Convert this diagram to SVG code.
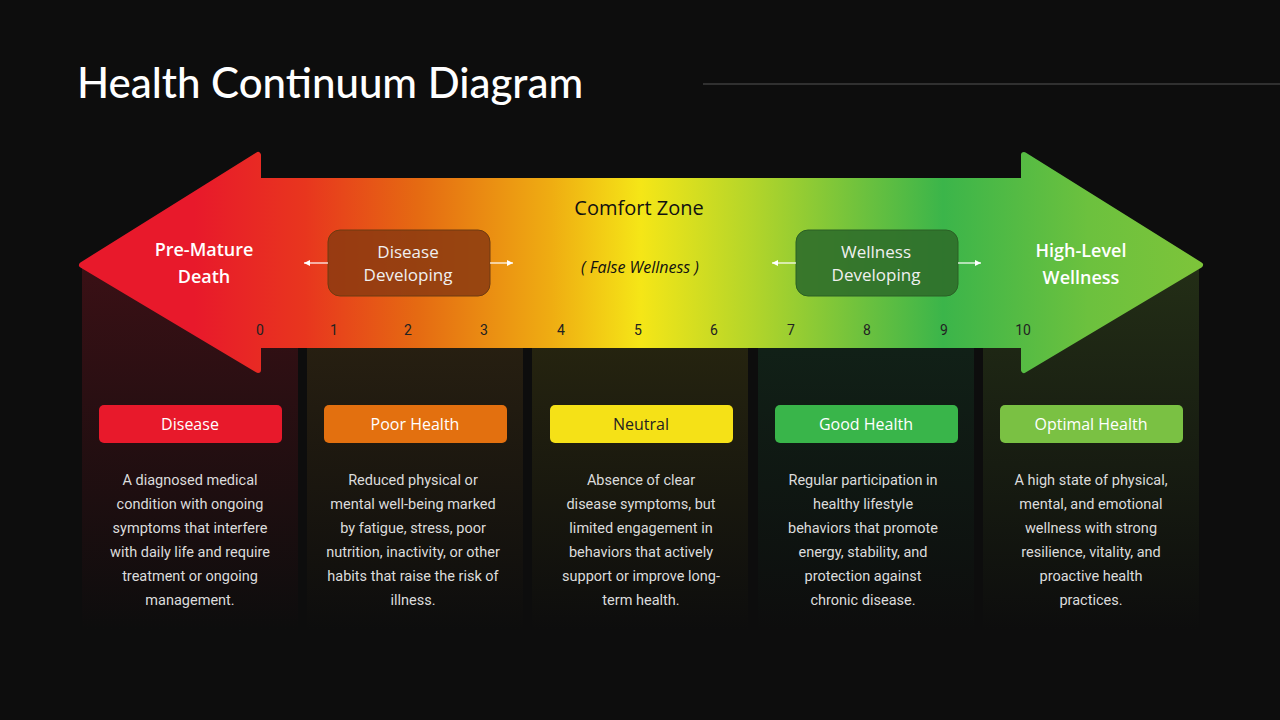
<svg xmlns="http://www.w3.org/2000/svg" width="1280" height="720" viewBox="0 0 1280 720">
<defs>
<linearGradient id="arr" x1="82" y1="0" x2="1200" y2="0" gradientUnits="userSpaceOnUse">
<stop offset="0.1" stop-color="#e8192b"/>
<stop offset="0.2" stop-color="#e8361e"/>
<stop offset="0.3" stop-color="#e56a12"/>
<stop offset="0.42" stop-color="#efad12"/>
<stop offset="0.5" stop-color="#f5e617"/>
<stop offset="0.6" stop-color="#b3d52a"/>
<stop offset="0.7" stop-color="#6cc13e"/>
<stop offset="0.77" stop-color="#3bb54a"/>
<stop offset="0.9" stop-color="#6cc13e"/>
<stop offset="1" stop-color="#7dc43a"/>
</linearGradient>
<linearGradient id="c1" x1="0" y1="0" x2="0" y2="1"><stop offset="0" stop-color="#3a1015"/><stop offset="1" stop-color="#0d0d0d"/></linearGradient>
<linearGradient id="c2" x1="0" y1="0" x2="0" y2="1"><stop offset="0" stop-color="#2e2412"/><stop offset="1" stop-color="#0d0d0d"/></linearGradient>
<linearGradient id="c3" x1="0" y1="0" x2="0" y2="1"><stop offset="0" stop-color="#2c2a10"/><stop offset="1" stop-color="#0d0d0d"/></linearGradient>
<linearGradient id="c4" x1="0" y1="0" x2="0" y2="1"><stop offset="0" stop-color="#12261a"/><stop offset="1" stop-color="#0d0d0d"/></linearGradient>
<linearGradient id="c5" x1="0" y1="0" x2="0" y2="1"><stop offset="0" stop-color="#232e16"/><stop offset="1" stop-color="#0d0d0d"/></linearGradient>
<marker id="ah" markerWidth="6" markerHeight="6" refX="5" refY="3" orient="auto"><path d="M0,0.5 L5,3 L0,5.5 Z" fill="#fff"/></marker>
</defs>
<style>
.ttl{font-family:Lato,"Open Sans",sans-serif;font-weight:500;font-size:42px;fill:#fff}
.big{font-family:"Open Sans",Lato,sans-serif;font-weight:600;font-size:18px;fill:#fff;text-anchor:middle}
.box{font-family:"Open Sans",Lato,sans-serif;font-weight:500;font-size:17px;fill:#f0f0f0;text-anchor:middle}
.num{font-family:Roboto,sans-serif;font-size:14px;fill:#222;text-anchor:middle}
.pill{font-family:"Open Sans",Lato,sans-serif;font-weight:500;font-size:16px;fill:#fff;text-anchor:middle}
.body{font-family:Roboto,sans-serif;font-size:14.5px;fill:#dcdcdc;text-anchor:middle}
.con{stroke:#fff;stroke-width:1.2;fill:none;marker-end:url(#ah)}
</style>
<rect width="1280" height="720" fill="#0d0d0d"/>
<text class="ttl" x="77" y="98">Health Continuum Diagram</text>
<line x1="703" y1="84" x2="1280" y2="84" stroke="#555" stroke-width="1"/>
<g id="columns">
<rect x="82" y="265" width="216" height="365" fill="url(#c1)"/>
<rect x="307" y="265" width="216" height="365" fill="url(#c2)"/>
<rect x="532" y="265" width="216" height="365" fill="url(#c3)"/>
<rect x="758" y="265" width="216" height="365" fill="url(#c4)"/>
<rect x="983" y="265" width="216" height="365" fill="url(#c5)"/>
</g>
<g id="arrow">
<path d="M82,265 L258,155 L258,181 L1024,181 L1024,155 L1200,265 L1024,370 L1024,345 L258,345 L258,370 Z" fill="url(#arr)" stroke="url(#arr)" stroke-width="6" stroke-linejoin="round"/>
<text class="big" x="204" y="256">Pre-Mature</text>
<text class="big" x="204" y="283">Death</text>
<text class="big" x="1081" y="257">High-Level</text>
<text class="big" x="1081" y="284">Wellness</text>
<text x="639" y="215" font-family="'Open Sans',Lato,sans-serif" font-weight="500" font-size="20" fill="#111" text-anchor="middle">Comfort Zone</text>
<text x="640" y="273" font-family="'Open Sans',Lato,sans-serif" font-style="italic" font-size="16" fill="#111" text-anchor="middle">( False Wellness )</text>
</g>
<g id="disease-developing">
<rect x="328" y="230" width="162" height="66" rx="12" fill="#8a3a10" fill-opacity="0.85" stroke="#6e3a10" stroke-width="1"/>
<text class="box" x="408" y="258">Disease</text>
<text class="box" x="408" y="281">Developing</text>
</g>
<g id="wellness-developing">
<rect x="796" y="230" width="162" height="66" rx="12" fill="#2f6e2a" fill-opacity="0.9" stroke="#2a6025" stroke-width="1"/>
<text class="box" x="876" y="258">Wellness</text>
<text class="box" x="876" y="281">Developing</text>
</g>
<g id="connectors">
<line class="con" x1="328" y1="263" x2="304" y2="263"/>
<line class="con" x1="490" y1="263" x2="513" y2="263"/>
<line class="con" x1="796" y1="263" x2="772" y2="263"/>
<line class="con" x1="958" y1="263" x2="981" y2="263"/>
</g>
<g id="scale">
<text class="num" x="260" y="335">0</text>
<text class="num" x="334" y="335">1</text>
<text class="num" x="408" y="335">2</text>
<text class="num" x="484" y="335">3</text>
<text class="num" x="561" y="335">4</text>
<text class="num" x="638" y="335">5</text>
<text class="num" x="714" y="335">6</text>
<text class="num" x="791" y="335">7</text>
<text class="num" x="867" y="335">8</text>
<text class="num" x="944" y="335">9</text>
<text class="num" x="1023" y="335">10</text>
</g>
<g id="disease">
<rect x="99" y="405" width="183" height="38" rx="5" fill="#e8192b"/>
<text class="pill" x="190" y="430">Disease</text>
<text class="body"><tspan x="190" y="485">A diagnosed medical</tspan><tspan x="190" y="509">condition with ongoing</tspan><tspan x="190" y="533">symptoms that interfere</tspan><tspan x="190" y="557">with daily life and require</tspan><tspan x="190" y="581">treatment or ongoing</tspan><tspan x="190" y="605">management.</tspan></text>
</g>
<g id="poor-health">
<rect x="324" y="405" width="183" height="38" rx="5" fill="#e3700f"/>
<text class="pill" x="415" y="430">Poor Health</text>
<text class="body"><tspan x="413" y="485">Reduced physical or</tspan><tspan x="413" y="509">mental well-being marked</tspan><tspan x="413" y="533">by fatigue, stress, poor</tspan><tspan x="413" y="557">nutrition, inactivity, or other</tspan><tspan x="413" y="581">habits that raise the risk of</tspan><tspan x="413" y="605">illness.</tspan></text>
</g>
<g id="neutral">
<rect x="550" y="405" width="183" height="38" rx="5" fill="#f5e117"/>
<text class="pill" x="641" y="430" style="fill:#222">Neutral</text>
<text class="body"><tspan x="641" y="485">Absence of clear</tspan><tspan x="641" y="509">disease symptoms, but</tspan><tspan x="641" y="533">limited engagement in</tspan><tspan x="641" y="557">behaviors that actively</tspan><tspan x="641" y="581">support or improve long-</tspan><tspan x="641" y="605">term health.</tspan></text>
</g>
<g id="good-health">
<rect x="775" y="405" width="183" height="38" rx="5" fill="#39b54a"/>
<text class="pill" x="866" y="430">Good Health</text>
<text class="body"><tspan x="863" y="485">Regular participation in</tspan><tspan x="863" y="509">healthy lifestyle</tspan><tspan x="863" y="533">behaviors that promote</tspan><tspan x="863" y="557">energy, stability, and</tspan><tspan x="863" y="581">protection against</tspan><tspan x="863" y="605">chronic disease.</tspan></text>
</g>
<g id="optimal-health">
<rect x="1000" y="405" width="183" height="38" rx="5" fill="#7ac143"/>
<text class="pill" x="1091" y="430">Optimal Health</text>
<text class="body"><tspan x="1091" y="485">A high state of physical,</tspan><tspan x="1091" y="509">mental, and emotional</tspan><tspan x="1091" y="533">wellness with strong</tspan><tspan x="1091" y="557">resilience, vitality, and</tspan><tspan x="1091" y="581">proactive health</tspan><tspan x="1091" y="605">practices.</tspan></text>
</g>
</svg>
